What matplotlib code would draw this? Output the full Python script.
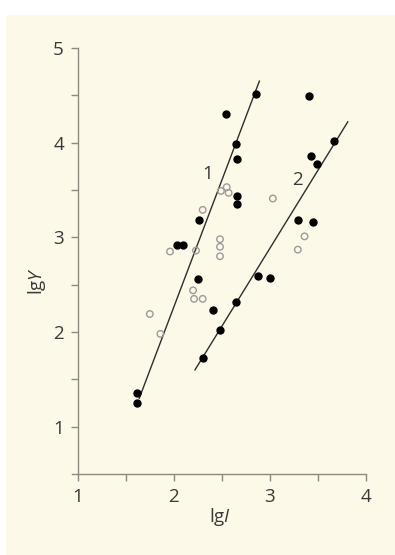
import matplotlib.pyplot as plt
from matplotlib.patches import Rectangle

plt.rcParams['font.family'] = ['Open Sans', 'DejaVu Sans']
plt.rcParams['mathtext.fontset'] = 'custom'
plt.rcParams['mathtext.rm'] = 'Open Sans'
plt.rcParams['mathtext.it'] = 'Open Sans:italic'

# filled points (black)
filled_x = [1.62, 1.62, 2.03, 2.09, 2.26, 2.25, 2.41, 2.54, 2.65, 2.66, 2.66, 2.66, 2.85,
            2.30, 2.48, 2.65, 2.88, 3.00, 3.29, 3.45, 3.41, 3.43, 3.49, 3.67]
filled_y = [1.36, 1.25, 2.92, 2.92, 3.18, 2.56, 2.23, 4.30, 3.99, 3.83, 3.44, 3.35, 4.51,
            1.73, 2.02, 2.32, 2.59, 2.57, 3.18, 3.16, 4.49, 3.86, 3.77, 4.02]

# open points (grey)
open_x = [1.75, 1.86, 1.96, 2.23, 2.30, 2.49, 2.55, 2.57, 2.48, 2.48, 2.48,
          3.03, 3.36, 3.29, 2.20, 2.21, 2.30]
open_y = [2.19, 1.98, 2.85, 2.86, 3.29, 3.49, 3.53, 3.47, 2.98, 2.90, 2.80,
          3.41, 3.01, 2.87, 2.44, 2.35, 2.35]

# regression lines
line1_x = [1.64, 2.89]
line1_y = [1.30, 4.65]
line2_x = [2.22, 3.81]
line2_y = [1.60, 4.22]

line_labels = ['1', '2']
label_x = [2.35, 3.29]
label_y = [3.67, 3.61]

grey = '#3a3a3a'
spine = '#8c8a7e'

fig = plt.figure(figsize=(3.95, 5.55), dpi=100)
fig.patch.set_facecolor('white')
fig.patches.append(Rectangle((6 / 395, 0), 1, 1 - 15 / 555, transform=fig.transFigure,
                             facecolor='#fdf9e8', edgecolor='none', zorder=-10))

ax = fig.add_axes([72 / 395, 81 / 555, 295 / 395, 426 / 555])
ax.set_facecolor('none')

ax.plot(line1_x, line1_y, color='#2e2e2e', lw=1.0)
ax.plot(line2_x, line2_y, color='#2e2e2e', lw=1.0)
ax.scatter(filled_x, filled_y, s=25, color='black', zorder=3)
ax.scatter(open_x, open_y, s=22, facecolor='none', edgecolor='#9a9a9a', linewidth=1.0, zorder=3)

for t, x, y in zip(line_labels, label_x, label_y):
    ax.text(x, y, t, fontsize=13.5, color=grey, ha='center', va='center')

ax.set_xlim(0.94, 4.01)
ax.set_ylim(0.5, 5.0)
ax.spines['top'].set_visible(False)
ax.spines['right'].set_visible(False)
ax.spines['left'].set_position(('data', 1))
for s in ['left', 'bottom']:
    ax.spines[s].set_color(spine)
    ax.spines[s].set_linewidth(1.0)
ax.spines['left'].set_bounds(0.5, 5.0)
ax.spines['bottom'].set_bounds(0.94, 4.0)

ax.set_xticks([1, 1.5, 2, 2.5, 3, 3.5, 4])
ax.set_xticklabels(['1', '', '2', '', '3', '', '4'])
ax.set_yticks([1, 1.5, 2, 2.5, 3, 3.5, 4, 4.5, 5])
ax.set_yticklabels(['1', '', '2', '', '3', '', '4', '', '5'])
ax.tick_params(direction='out', length=5, width=1.0, color=spine,
               labelsize=13.5, labelcolor=grey, pad=5)

fig.text(220 / 395, 1 - 517 / 555, 'lg$\\mathit{I}$', fontsize=13.5, color=grey,
         ha='center', va='center')
fig.text(37 / 395, 1 - 281 / 555, 'lg$\\mathit{Y}$', fontsize=13.5, color=grey,
         ha='center', va='center', rotation=90)

fig.savefig('out.png', dpi=100, facecolor=fig.get_facecolor())
